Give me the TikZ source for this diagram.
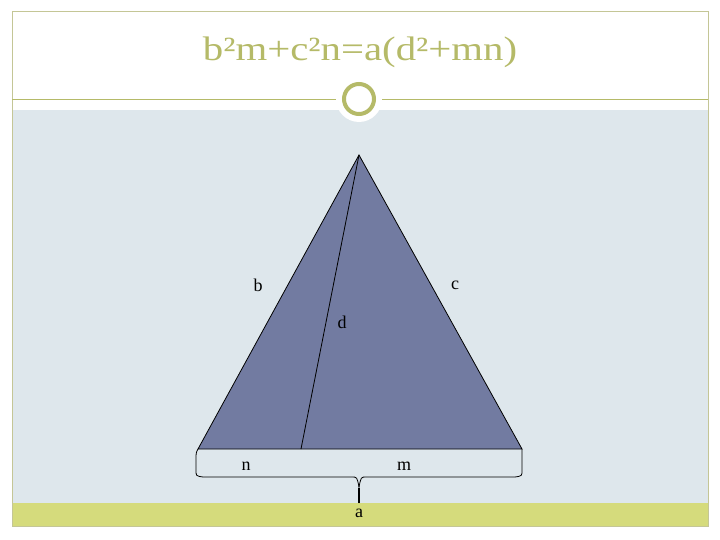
\documentclass[tikz,border=0pt]{standalone}
\usepackage{fontspec}
\setmainfont{Liberation Serif}
\usepackage{tikz}
\usetikzlibrary{positioning}
\definecolor{slideolive}{RGB}{181,186,104}
\definecolor{slideframe}{RGB}{196,198,150}
\definecolor{slidebg}{RGB}{222,231,236}
\definecolor{slideband}{RGB}{213,219,124}
\definecolor{trifill}{RGB}{114,123,161}
\tikzstyle{lbl} = [font=\fontsize{18}{20}\selectfont, inner sep=0pt, text=black]
\tikzstyle{title} = [font=\fontsize{34}{38}\selectfont, inner sep=0pt, text=slideolive]
\tikzstyle{edge} = [line width=0.8pt, black]

\begin{document}
\begin{tikzpicture}[x=1pt, y=-1pt]
\useasboundingbox (0,0) rectangle (720,540);
% Slide background
\fill[white] (0,0) rectangle (720,540);
\fill[slidebg] (12,110) rectangle (708,503);
\fill[slideband] (12,503) rectangle (708,526);
\draw[slideframe, line width=1pt] (12,12) rectangle (708,526);
\draw[slideolive, line width=1pt] (12,100) -- (708,100);

% Ring on the title line
\fill[white] (359,99) circle (23);
\draw[slideolive, line width=4pt] (359,99) circle (15);

% Title
\node (title) [title] at (360,52) {\scalebox{1.2}[1]{b²m+c²n=a(d²+mn)}};

% Triangle corners
\coordinate (apex) at (359,155);
\coordinate (left) at (198,449);
\coordinate (right) at (522,449);
\coordinate (foot) at (301,449);
\filldraw[trifill, draw=black, line width=0.8pt] (apex) -- (left) -- (right) -- cycle;

% Cevian
\draw[edge] (apex) -- (foot);

% Brace under the base
\coordinate (tip) at (359,503);
\draw[edge] (left) .. controls (196,453) .. (196,459) -- (196,470)
  .. controls (196,476) .. (203,477) -- (352,477)
  .. controls (357,477) .. (359,487) -- (tip);
\draw[edge] (right) .. controls (522,453) .. (522,459) -- (522,470)
  .. controls (522,476) .. (515,477) -- (366,477)
  .. controls (361,477) .. (359,487);
\draw[black, line width=1.6pt] (359,488) -- (tip);

% Labels
\node (lb) [lbl] at (258,285) {b};
\node (lc) [lbl] at (455,285) {c};
\node (ld) [lbl] at (342,322) {d};
\node (ln) [lbl] at (246,466) {n};
\node (lm) [lbl] at (404,466) {m};
\node (la) [lbl] at (359,513) {a};
\end{tikzpicture}
\end{document}
